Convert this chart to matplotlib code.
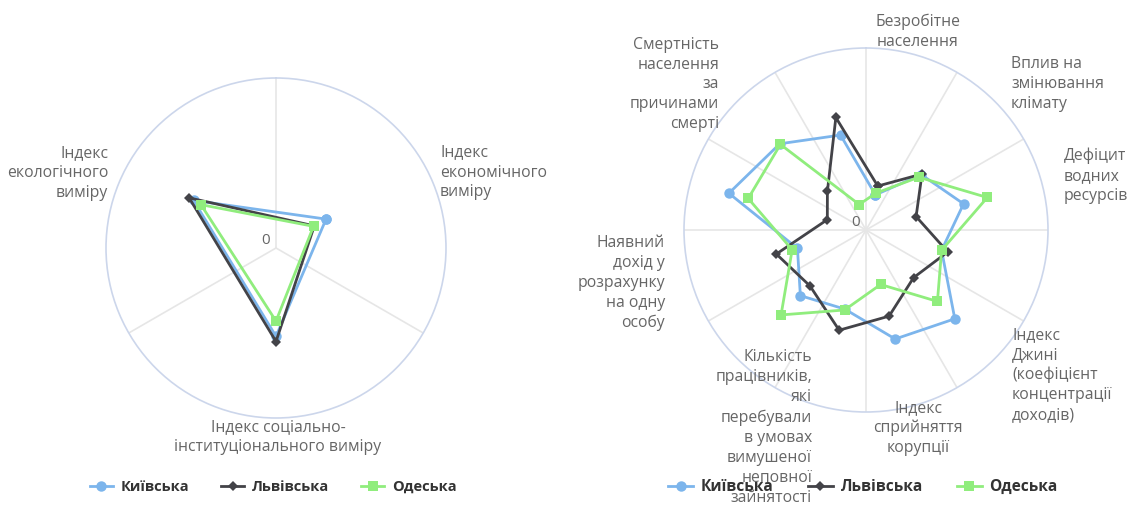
import numpy as np
import matplotlib
matplotlib.use('Agg')
import matplotlib.pyplot as plt

plt.rcParams['font.family'] = ['Open Sans', 'DejaVu Sans']

W, H = 1138, 505

series_names = ['Київська', 'Львівська', 'Одеська']
series_colors = ['#7cb5ec', '#434348', '#90ed7d']
series_markers = ['o', 'D', 's']
series_msize = [7.5, 5.5, 7.0]

# left chart: three dimensions
left_categories = ['Індекс\nекономічного\nвиміру',
                   'Індекс соціально-\nінституціонального виміру',
                   'Індекс\nекологічного\nвиміру']
left_kyiv = [0.34, 0.52, 0.56]
left_lviv = [0.26, 0.55, 0.59]
left_odesa = [0.255, 0.43, 0.51]

# right chart: twelve indicators (four labels are hidden in the original)
right_categories = ['Безробітне\nнаселення',
                    'Вплив на\nзмінювання\nклімату',
                    'Дефіцит\nводних\nресурсів',
                    '',
                    'Індекс\nДжині\n(коефіцієнт\nконцентрації\nдоходів)',
                    'Індекс\nсприйняття\nкорупції',
                    'Кількість\nпрацівників,\nякі\nперебували\nв умовах\nвимушеної\nнеповної\nзайнятості',
                    '',
                    'Наявний\nдохід у\nрозрахунку\nна одну\nособу',
                    '',
                    'Смертність\nнаселення\nза\nпричинами\nсмерті',
                    '']
right_kyiv = [0.20, 0.43, 0.555, 0.43, 0.69, 0.62, 0.45, 0.51, 0.39, 0.78, 0.67, 0.54]
right_lviv = [0.25, 0.435, 0.285, 0.465, 0.37, 0.49, 0.57, 0.435, 0.51, 0.22, 0.30, 0.64]
right_odesa = [0.21, 0.41, 0.69, 0.43, 0.555, 0.31, 0.455, 0.66, 0.42, 0.67, 0.665, 0.145]

# label placement in pixels: (x, y centre, ha)
left_label_pos = [(440, 172.5, 'left'), (278, 437.5, 'center'), (108, 173, 'right')]
right_label_pos = [(918, 31.5, 'center'), (1011, 84, 'left'), (1064, 176, 'left'), None,
                   (1012, 375, 'left'), (918, 428, 'center'), (812, 427.5, 'right'), None,
                   (665, 283, 'right'), None, (719, 84.5, 'right'), None]

fig = plt.figure(figsize=(W / 100, H / 100), dpi=100)


def radar(cx, cy, r, categories, values, label_pos, legend_x, legend_size):
    ax = fig.add_axes([(cx - r) / W, (H - cy - r) / H, 2 * r / W, 2 * r / H], polar=True)
    ax.set_theta_zero_location('N')
    ax.set_theta_direction(-1)
    n = len(categories)
    step = 2 * np.pi / n
    theta = (np.arange(n) + 0.5) * step
    ax.set_xticks(np.arange(n) * step)
    ax.set_xticklabels([])
    ax.set_yticks([])
    ax.set_ylim(0, 1)
    ax.grid(True, color='#e6e6e6', linewidth=1.2)
    ax.spines['polar'].set_color('#ccd6eb')
    ax.spines['polar'].set_linewidth(1.2)
    ax.set_facecolor('none')

    handles = []
    for name, vals, c, m, ms in zip(series_names, values, series_colors, series_markers, series_msize):
        t = np.append(theta, theta[0])
        v = np.append(vals, vals[0])
        ln, = ax.plot(t, v, color=c, linewidth=2, marker=m, markersize=ms,
                      markeredgewidth=0, label=name, clip_on=False)
        handles.append(ln)

    fig.text((cx - 10) / W, 1 - (cy - 7) / H, '0', color='#666666', fontsize=11,
             ha='center', va='center')

    for txt, pos in zip(categories, label_pos):
        if pos is None or not txt:
            continue
        x, y, ha = pos
        fig.text(x / W, 1 - y / H, txt, ha=ha, va='center', multialignment=ha,
                 color='#666666', fontsize=11.3, linespacing=1.33)

    leg = fig.legend(handles=handles, loc='center', bbox_to_anchor=(legend_x / W, 1 - 487 / H),
                     ncol=3, frameon=False, handlelength=1.6, handletextpad=0.5,
                     columnspacing=2.2, prop={'weight': 'bold', 'size': legend_size})
    for t in leg.get_texts():
        t.set_color('#333333')
    leg.set_zorder(10)
    return ax


radar(276, 248, 170, left_categories, [left_kyiv, left_lviv, left_odesa], left_label_pos, 273, 10.5)
radar(866, 230, 182, right_categories, [right_kyiv, right_lviv, right_odesa], right_label_pos, 863, 11.2)

fig.savefig('out.png', dpi=100)
